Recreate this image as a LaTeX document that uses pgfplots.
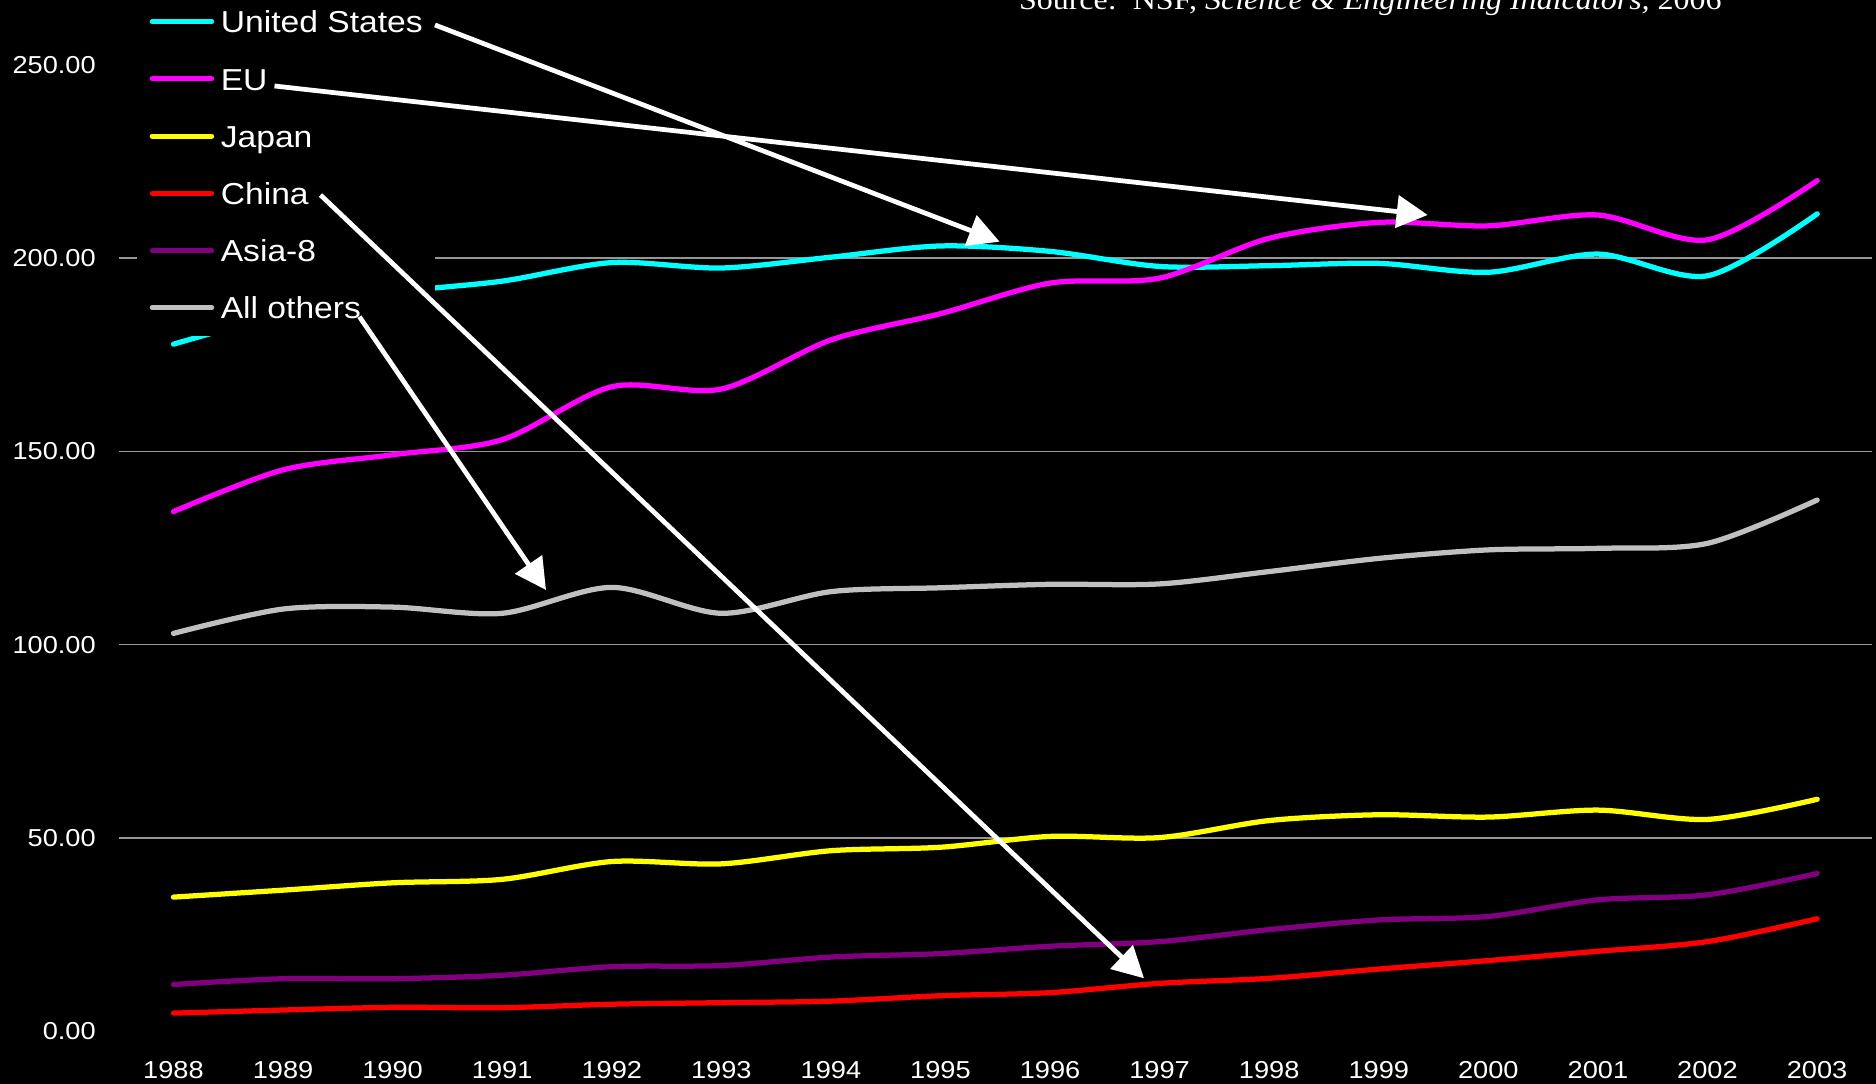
\documentclass[border=0pt]{standalone}
\usepackage{fontspec}
\setmainfont{Liberation Sans}[FakeStretch=1.11]
\newfontfamily\srcfont{Liberation Serif}[FakeStretch=1.11]
\usepackage{pgfplots}
\usepackage{pgfplotstable}
\pgfplotsset{compat=1.18}
\usetikzlibrary{arrows.meta}

\definecolor{cUS}{HTML}{00FFFF}
\definecolor{cEU}{HTML}{FF00FF}
\definecolor{cJP}{HTML}{FFFF00}
\definecolor{cCN}{HTML}{FF0000}
\definecolor{cAS}{HTML}{800080}
\definecolor{cAO}{HTML}{C0C0C0}
\definecolor{cGrid}{HTML}{969696}

\pgfplotstableread{
year US EU JP CN AS AO
1988 177.7 134.4 34.7 4.7 12.1 102.9
1989 185.5 145.2 36.5 5.5 13.6 109.2
1990 191.0 149.1 38.4 6.2 13.6 109.7
1991 194.0 153.0 39.3 6.1 14.5 108.1
1992 198.8 166.7 43.9 7.0 16.7 114.8
1993 197.4 166.1 43.3 7.4 17.0 108.1
1994 200.2 178.8 46.7 7.8 19.2 113.7
1995 203.1 185.6 47.6 9.2 20.1 114.7
1996 201.7 193.5 50.4 10.0 22.0 115.6
1997 197.8 194.8 50.1 12.4 23.2 115.7
1998 198.0 205.1 54.5 13.7 26.3 118.9
1999 198.6 209.2 56.0 16.1 28.8 122.3
2000 196.3 208.3 55.4 18.3 29.7 124.5
2001 201.0 211.1 57.2 20.7 34.0 124.9
2002 195.4 204.7 54.8 23.2 35.3 126.2
2003 211.4 220.0 60.0 29.1 40.8 137.4
}\datatable

\begin{document}
\begin{tikzpicture}
\fill[black] (0pt,0pt) rectangle (375.2pt,216.8pt);
\begin{axis}[
  scale only axis,
  width=350.66pt, height=193.34pt,
  at={(23.74pt,10.54pt)}, anchor=south west,
  xmin=1987.5, xmax=2003.5, ymin=0, ymax=250,
  xtick={1988,1989,...,2003},
  ytick={50,100,150,200},
  extra y ticks={0,250},
  extra y tick style={grid=none},
  ymajorgrids,
  grid style={draw=cGrid, line width=0.3pt},
  axis line style={draw=none},
  major tick length=0pt,
  /pgf/number format/assume math mode=true,
  ticklabel style={text=white, font=\fontsize{4.9}{5.8}\selectfont},
  xticklabel style={/pgf/number format/1000 sep={}, anchor=north, inner sep=0pt, yshift=-5.74pt},
  yticklabel style={/pgf/number format/.cd, fixed, fixed zerofill, precision=2, /tikz/.cd, anchor=east, inner sep=0pt, xshift=-4.4pt},
  clip=false,
  legend style={at={(axis description cs:0.00987,1.0750)}, anchor=north west, fill=black, draw=none,
    inner xsep=2.54pt, inner ysep=0pt, text=white, font=\fontsize{6.06}{7}\selectfont,
    row sep=0pt, column sep=1.32pt,
    nodes={inner sep=0pt, text height=7.97pt, text depth=3.47pt}},
  legend cell align=left,
  legend image code/.code={\draw[#1, line width=1pt, line cap=round] (0.5pt,0pt) -- (12.4pt,0pt);},
  every axis plot/.append style={line width=1.05pt, smooth, tension=0.5, line cap=round, no markers},
]
\addplot[cUS] table[x=year, y=US] {\datatable};
\addplot[cEU] table[x=year, y=EU] {\datatable};
\addplot[cJP] table[x=year, y=JP] {\datatable};
\addplot[cCN] table[x=year, y=CN] {\datatable};
\addplot[cAS] table[x=year, y=AS] {\datatable};
\addplot[cAO] table[x=year, y=AO] {\datatable};
\legend{United States, EU, Japan, China, Asia-8, All others}
\end{axis}
\begin{scope}[white, line width=0.95pt, -{Triangle[length=6.2pt, width=6.4pt]}]
\draw (87.0pt,211.8pt) -- (199.92pt,168.46pt);
\draw (54.9pt,199.6pt) -- (285.54pt,173.8pt);
\draw (64.1pt,177.8pt) -- (228.8pt,21.14pt);
\draw (71.88pt,153.46pt) -- (109.2pt,98.8pt);
\end{scope}
\node[anchor=base west, inner sep=0pt, text=white, font=\srcfont\fontsize{5.77}{7}\selectfont] at (203.6pt,214.8pt) {Source:\ \ NSF, \textit{Science \& Engineering Indicators,} 2006};
\pgfresetboundingbox
\path[use as bounding box] (0pt,0pt) rectangle (375.2pt,216.8pt);
\end{tikzpicture}
\end{document}
